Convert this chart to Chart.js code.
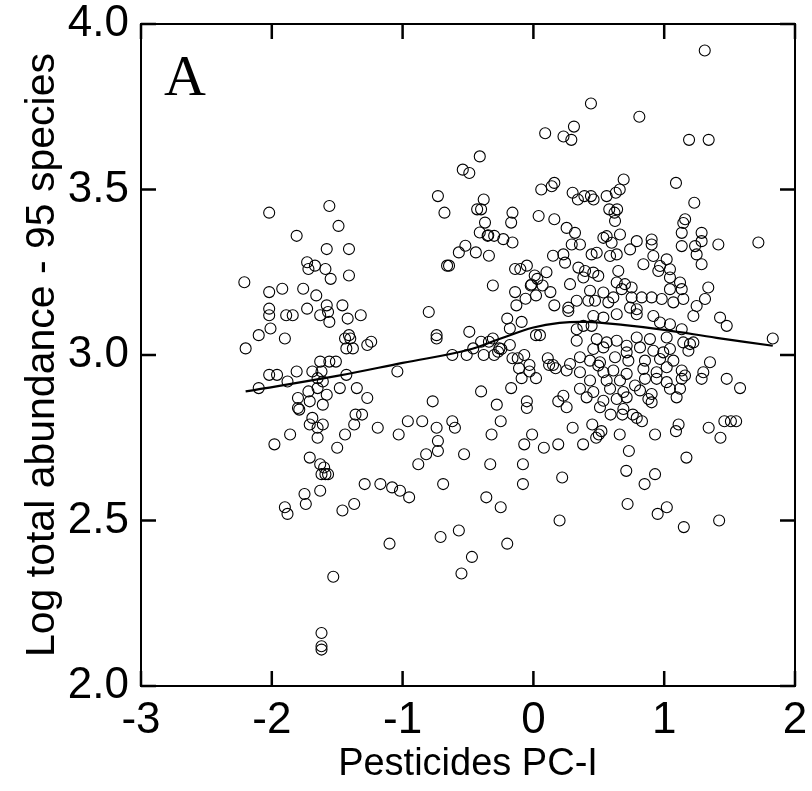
<!DOCTYPE html>
<html>
<head>
<meta charset="utf-8">
<script src="https://cdn.jsdelivr.net/npm/chart.js@4.4.1/dist/chart.umd.min.js"></script>
<style>
  html, body { margin: 0; padding: 0; background: #fff; }
  canvas { display: block; }
</style>
</head>
<body>
<canvas id="abundanceChart" width="812" height="791"></canvas>
<script>
// site scores: [Pesticides PC-I, log total abundance]
const westSites = [
  [-2.21,3.22],[-2.20,3.02],[-2.10,3.06],[-2.10,2.90],[-2.02,3.43],[-2.02,3.19],[-2.02,3.14],[-2.02,3.12],
  [-2.01,3.08],[-2.02,2.94],[-1.98,2.73],[-1.96,2.94],[-1.92,3.20],[-1.90,3.05],[-1.89,3.12],[-1.90,2.54],
  [-1.88,2.52],[-1.88,2.92],[-1.86,2.76],[-1.84,3.12],[-1.81,3.36],[-1.81,2.95],[-1.80,2.87],[-1.80,2.84],
  [-1.79,2.835],[-1.76,3.20],[-1.75,2.58],[-1.74,2.55],[-1.73,3.14],[-1.73,3.28],[-1.72,3.26],[-1.72,2.89],
  [-1.71,2.86],[-1.71,2.79],[-1.71,2.69],[-1.69,2.95],[-1.69,2.81],[-1.67,3.27],[-1.66,3.18],[-1.65,2.93],
  [-1.65,2.90],[-1.65,2.78],[-1.65,2.75],[-1.63,3.12],[-1.63,2.98],[-1.63,2.67],[-1.63,2.59],[-1.62,2.64],
  [-1.62,2.16],[-1.62,2.12],[-1.62,2.11],[-1.62,2.95],[-1.61,2.92],[-1.61,2.85],[-1.61,2.79],[-1.60,2.66],
  [-1.59,2.64],[-1.59,3.26],[-1.58,3.32],[-1.58,3.15],[-1.58,2.88],[-1.57,2.64],[-1.57,3.13],[-1.56,3.10],
  [-1.56,2.98],[-1.56,3.45],[-1.55,3.23],[-1.53,2.33],[-1.51,2.98],[-1.50,2.72],[-1.49,3.39],[-1.48,2.90],
  [-1.46,2.53],[-1.46,3.15],[-1.44,2.76],[-1.44,3.05],[-1.43,3.02],[-1.43,2.94],[-1.42,3.11],[-1.41,3.32],
  [-1.41,3.24],[-1.41,3.06],[-1.40,3.05],[-1.38,3.02],[-1.37,2.55],[-1.37,2.79],[-1.36,2.82],[-1.35,2.90],
  [-1.32,3.12],[-1.31,2.82],[-1.29,2.61],[-1.27,2.87],[-1.27,3.03],[-1.24,3.04],[-1.19,2.78],[-1.17,2.61]
];
const middleSites = [
  [-1.10,2.43],[-1.08,2.60],[-1.03,2.76],[-1.04,2.95],[-1.02,2.59],[-0.96,2.80],[-0.95,2.57],[-0.88,2.67],
  [-0.85,2.80],[-0.82,2.70],[-0.80,3.13],[-0.77,2.86],[-0.74,3.06],[-0.74,3.05],[-0.74,2.78],[-0.73,2.71],
  [-0.73,2.74],[-0.73,3.48],[-0.71,2.45],[-0.69,2.61],[-0.68,3.43],[-0.66,3.27],[-0.645,3.27],[-0.62,3.00],
  [-0.62,2.80],[-0.60,2.78],[-0.57,2.47],[-0.57,3.31],[-0.55,2.34],[-0.54,3.56],[-0.53,2.70],[-0.52,3.33],
  [-0.51,3.00],[-0.49,3.55],[-0.49,3.07],[-0.47,2.39],[-0.46,3.02],[-0.44,3.31],[-0.43,3.44],[-0.41,3.60],
  [-0.41,3.37],[-0.40,3.44],[-0.40,2.89],[-0.40,3.04],[-0.38,3.47],[-0.38,3.00],[-0.37,3.40],[-0.36,2.57],
  [-0.35,3.36],[-0.345,3.362],[-0.34,3.30],[-0.34,3.04],[-0.33,2.67],[-0.32,2.76],[-0.31,3.05],[-0.31,3.21],
  [-0.30,3.00],[-0.30,3.36],[-0.28,2.85],[-0.27,3.01],[-0.26,3.02],[-0.25,2.54],[-0.25,2.80],[-0.245,3.018],
  [-0.23,3.35],[-0.20,3.11],[-0.20,2.43],[-0.18,3.03],[-0.18,3.08],[-0.17,3.40],[-0.17,2.90],[-0.16,3.43],
  [-0.16,3.34],[-0.16,2.99],[-0.14,3.26],[-0.14,3.19],[-0.13,3.15],[-0.12,2.99],[-0.11,2.96],[-0.10,3.26],
  [-0.09,2.93],[-0.09,3.10],[-0.08,2.61],[-0.08,2.67],[-0.07,2.73],[-0.07,3.00],[-0.06,3.17],[-0.05,3.27],
  [-0.05,2.86],[-0.05,2.84],[-0.03,2.97],[-0.03,2.95],[-0.02,3.21],[-0.015,3.213],[-0.01,2.76],[0.01,3.24],
  [0.02,3.18],[0.02,3.06],[0.02,2.93],[0.03,3.23],[0.04,3.42],[0.05,3.06],[0.06,3.50],[0.07,3.21],
  [0.08,2.72],[0.09,3.67],[0.10,3.25],[0.11,2.99],[0.12,2.97],[0.13,3.19],[0.14,3.51],[0.15,3.30],
  [0.15,2.97],[0.16,3.41],[0.16,3.52],[0.16,3.15],[0.17,2.96],[0.19,2.73],[0.19,2.86]
];
const coreUpperSites = [
  [0.254,3.384],[0.318,3.369],[0.293,3.334],[0.356,3.334],[0.229,3.304],[0.242,3.279],[0.445,3.304],[0.484,3.309],
  [0.560,3.359],[0.598,3.339],[0.662,3.364],[0.535,3.354],[0.624,3.405],[0.586,3.299],[0.637,3.304],[0.739,3.319],
  [0.790,3.344],[0.904,3.349],[0.904,3.334],[0.841,3.274],[0.917,3.299],[1.019,3.289],[0.955,3.254],[0.968,3.269],
  [1.044,3.259],[1.044,3.234],[1.121,3.219],[1.134,3.329],[1.134,3.369],[1.236,3.329],[1.286,3.369],[1.286,3.344],
  [1.248,3.304],[1.286,3.274],[1.414,3.334],[1.146,3.399],[0.344,3.264],[0.395,3.254],[0.458,3.249],[0.496,3.239],
  [0.382,3.234],[0.280,3.214],[0.649,3.254],[0.637,3.219],[0.700,3.214],[0.751,3.204],[0.675,3.199],[0.433,3.194],
  [0.535,3.189],[0.611,3.174],[0.751,3.174],[0.828,3.174],[0.904,3.174],[0.981,3.169],[1.070,3.159],[1.146,3.169],
  [1.134,3.199],[1.044,3.199],[1.337,3.204],[1.312,3.169],[1.248,3.148],[0.331,3.164],[0.267,3.143],[0.420,3.164],
  [0.471,3.164],[0.573,3.159],[0.739,3.143],[0.790,3.138]
];
const coreLowerSites = [
  [0.267,3.133],[0.458,3.118],[0.535,3.113],[0.637,3.123],[0.790,3.123],[0.917,3.118],[0.968,3.098],[1.044,3.093],
  [1.134,3.078],[1.223,3.118],[1.427,3.113],[1.478,3.088],[0.331,3.078],[0.382,3.088],[0.445,3.088],[0.331,3.043],
  [0.484,3.048],[0.560,3.038],[0.637,3.043],[0.713,3.028],[0.790,3.053],[0.891,3.048],[1.019,3.053],[1.146,3.038],
  [1.197,3.033],[1.223,3.038],[1.185,3.013],[0.458,3.018],[0.535,3.023],[0.713,3.008],[0.815,3.023],[0.917,3.013],
  [0.993,3.008],[1.044,3.018],[0.280,2.973],[0.356,2.993],[0.433,2.983],[0.509,2.978],[0.624,2.993],[0.726,2.983],
  [0.853,2.983],[0.968,2.988],[1.070,2.983],[1.350,2.978],[0.254,2.953],[0.356,2.948],[0.496,2.968],[0.535,2.948],
  [0.611,2.953],[0.713,2.943],[0.841,2.958],[0.942,2.948],[1.019,2.963],[1.134,2.953],[1.299,2.948],[1.286,2.928],
  [1.478,2.928],[0.433,2.923],[0.560,2.923],[0.662,2.923],[0.777,2.908],[0.853,2.928],[0.942,2.928],[1.019,2.918],
  [1.134,2.928],[1.159,2.938],[0.356,2.898],[0.458,2.888],[0.586,2.898],[0.688,2.888],[0.713,2.872],[0.815,2.893],
  [0.904,2.882],[1.044,2.898],[1.121,2.898],[1.095,2.872],[0.229,2.877],[0.407,2.872],[0.535,2.862],[0.637,2.867],
  [0.879,2.867],[0.904,2.857],[0.254,2.842],[0.509,2.842],[0.688,2.837]
];
const eastSites = [
  [0.20,2.50],[0.22,2.63],[0.23,3.66],[0.29,3.65],[0.30,3.49],[0.30,2.78],[0.31,3.69],[0.34,3.47],
  [0.38,2.73],[0.39,3.48],[0.44,3.48],[0.44,3.76],[0.45,2.79],[0.46,3.47],[0.48,2.75],[0.50,2.76],
  [0.52,2.77],[0.56,3.48],[0.58,3.44],[0.59,2.82],[0.62,3.43],[0.63,3.49],[0.64,3.44],[0.66,2.76],
  [0.66,3.50],[0.68,2.82],[0.69,3.53],[0.71,2.65],[0.72,2.55],[0.73,2.71],[0.76,2.82],[0.79,2.81],
  [0.81,3.72],[0.83,2.80],[0.85,2.61],[0.93,2.64],[0.93,2.76],[0.95,2.52],[1.02,2.54],[1.09,2.77],
  [1.09,3.52],[1.11,2.79],[1.15,2.48],[1.16,3.41],[1.17,2.69],[1.19,3.65],[1.23,3.46],[1.31,3.92],
  [1.34,2.78],[1.34,3.65],[1.42,2.50],[1.43,2.75],[1.46,2.80],[1.51,2.80],[1.55,2.80],[1.58,2.90],
  [1.72,3.34],[1.83,3.05]
];

// smoothed trend
const trendX = [-2.2, -1.5, -1.0, -0.5, -0.25, 0.0, 0.2, 0.4, 0.7, 1.0, 1.4, 1.83];
const trendY = [2.89, 2.937, 2.976, 3.015, 3.05, 3.083, 3.097, 3.1, 3.09, 3.076, 3.052, 3.028];

const xRange = [-3, 2];
const yRange = [2, 4];

const allSites = [...westSites, ...middleSites, ...coreUpperSites, ...coreLowerSites, ...eastSites]
    .map(p => ({ x: p[0], y: p[1] }));
const trendPts = trendX.map((v, i) => ({ x: v, y: trendY[i] }));

// frame + inward ticks on all four sides
const frameTicks = {
    id: 'frameTicks',
    afterDraw(chart) {
        const { ctx, chartArea: a, scales: { x, y } } = chart;
        const len = 15;
        ctx.save();
        ctx.strokeStyle = '#000';
        ctx.lineWidth = 2;
        ctx.strokeRect(a.left, a.top, a.right - a.left, a.bottom - a.top);
        ctx.lineWidth = 2.5;
        ctx.beginPath();
        x.ticks.forEach(t => {
            const px = x.getPixelForValue(t.value);
            ctx.moveTo(px, a.bottom); ctx.lineTo(px, a.bottom - len);
            ctx.moveTo(px, a.top); ctx.lineTo(px, a.top + len);
        });
        y.ticks.forEach(t => {
            const py = y.getPixelForValue(t.value);
            ctx.moveTo(a.left, py); ctx.lineTo(a.left + len, py);
            ctx.moveTo(a.right, py); ctx.lineTo(a.right - len, py);
        });
        ctx.stroke();
        // panel letter
        ctx.fillStyle = '#000';
        ctx.font = '58px "Liberation Serif", serif';
        ctx.textBaseline = 'alphabetic';
        ctx.fillText('A', a.left + 23, a.top + 71);
        ctx.restore();
    }
};

const tickFont = { family: '"Liberation Sans", Arial, sans-serif', size: 44 };
const xTitleFont = { family: '"Liberation Sans", Arial, sans-serif', size: 38 };
const yTitleFont = { family: '"Liberation Sans", Arial, sans-serif', size: 41 };

const ctx = document.getElementById('abundanceChart').getContext('2d');
new Chart(ctx, {
    type: 'scatter',
    data: {
        datasets: [{
            label: 'Sites',
            data: allSites,
            pointRadius: 5.5,
            pointBorderWidth: 1.1,
            pointBorderColor: '#000',
            pointBackgroundColor: 'rgba(0,0,0,0)',
            order: 2
        }, {
            type: 'line',
            label: 'Trend',
            data: trendPts,
            borderColor: '#000',
            borderWidth: 2.2,
            pointRadius: 0,
            tension: 0.4,
            fill: false,
            order: 1
        }]
    },
    options: {
        responsive: false,
        animation: false,
        layout: { padding: { top: 24, right: 17, left: 0, bottom: 0 } },
        plugins: {
            legend: { display: false },
            tooltip: { enabled: false }
        },
        scales: {
            x: {
                type: 'linear',
                min: xRange[0],
                max: xRange[1],
                grid: { display: false, drawTicks: false },
                border: { display: false },
                ticks: { stepSize: 1, color: '#000', font: tickFont, padding: 8, maxRotation: 0 },
                title: { display: true, text: 'Pesticides PC-I', color: '#000', font: xTitleFont, padding: { top: 0, bottom: 4 } },
                afterFit: s => { s.height = 105; s.paddingLeft = 0; s.paddingRight = 0; }
            },
            y: {
                min: yRange[0],
                max: yRange[1],
                grid: { display: false, drawTicks: false },
                border: { display: false },
                ticks: { stepSize: 0.5, color: '#000', font: tickFont, padding: 12, callback: v => v.toFixed(1) },
                title: { display: true, text: 'Log total abundance - 95 species', color: '#000', font: yTitleFont, padding: { top: 18, bottom: 0 } },
                afterFit: s => { s.width = 141; s.paddingTop = 0; s.paddingBottom = 0; }
            }
        }
    },
    plugins: [frameTicks]
});
</script>
</body>
</html>
